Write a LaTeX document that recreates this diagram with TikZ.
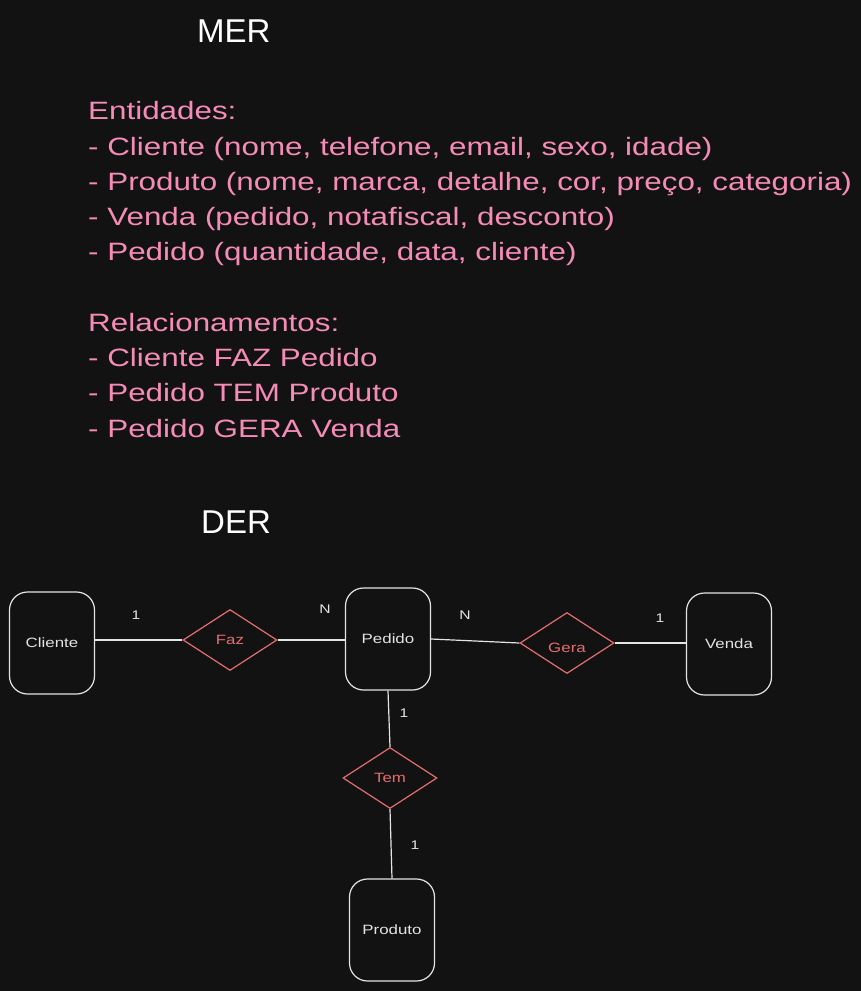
\documentclass[tikz,border=0pt]{standalone}
\usepackage{fontspec}
\setmainfont{Liberation Sans}
\newfontfamily\hand[FakeStretch=1.25]{Liberation Sans}
\usetikzlibrary{shapes.geometric}
\definecolor{bg}{HTML}{121212}
\definecolor{pinktxt}{RGB}{245,140,182}
\definecolor{redd}{RGB}{228,110,110}
\definecolor{wht}{RGB}{228,228,228}
\begin{document}
\begin{tikzpicture}[x=1pt,y=-1pt,
  entity/.style={draw=wht, line width=1.2pt, rounded corners=18pt, minimum width=85pt, minimum height=102pt, inner sep=0pt, text=wht, font=\hand\fontsize{13.5}{15}\selectfont},
  rel/.style={diamond, draw=redd, line width=1.2pt, minimum width=94pt, minimum height=61pt, inner sep=0pt, text=redd, font=\hand\fontsize{13.5}{15}\selectfont},
  conn/.style={draw=wht, line width=1.2pt},
  card/.style={text=wht, inner sep=0pt, font=\hand\fontsize{12.5}{14}\selectfont},
  title/.style={text=white, inner sep=0pt, anchor=base west, font=\fontsize{33}{36}\selectfont},
  mer/.style={text=pinktxt, inner sep=0pt, anchor=base west, font=\hand\fontsize{25.1}{30}\selectfont}
]
\fill[bg] (0,0) rectangle (861,991);
\useasboundingbox (0,0) rectangle (861,991);

\node[title] (tmer) at (197,42) {MER};
\node[title] (tder) at (201,533) {DER};

\node[mer] (l1) at (88,119) {Entidades:};
\node[mer] (l2) at (88,155) {- Cliente (nome, telefone, email, sexo, idade)};
\node[mer] (l3) at (88,190) {- Produto (nome, marca, detalhe, cor, preço, categoria)};
\node[mer] (l4) at (88,225) {- Venda (pedido, notafiscal, desconto)};
\node[mer] (l5) at (88,260) {- Pedido (quantidade, data, cliente)};
\node[mer] (l6) at (88,331) {Relacionamentos:};
\node[mer] (l7) at (88,366) {- Cliente FAZ Pedido};
\node[mer] (l8) at (88,401) {- Pedido TEM Produto};
\node[mer] (l9) at (88,437) {- Pedido GERA Venda};

\node[entity] (cliente) at (52,643) {Cliente};
\node[entity] (pedido) at (388,639) {Pedido};
\node[entity] (venda) at (729,644) {Venda};
\node[entity] (produto) at (392,930) {Produto};

\node[rel] (faz) at (230,640) {Faz};
\node[rel] (gera) at (567,643) {\raisebox{-9pt}[0pt][0pt]{Gera}};
\node[rel] (tem) at (390,778) {Tem};

\draw[conn] (faz.west) -- (faz.west -| cliente.east);
\draw[conn] (faz.east) -- (faz.east -| pedido.west);
\draw[conn] (pedido.east) -- (gera.west);
\draw[conn] (gera.east) -- (gera.east -| venda.west);
\draw[conn] (pedido.south) -- (tem.north);
\draw[conn] (tem.south) -- (produto.north);

\node[card] (c1) at (136,615) {1};
\node[card] (c2) at (325,609) {N};
\node[card] (c3) at (465,615) {N};
\node[card] (c4) at (660,618) {1};
\node[card] (c5) at (404,713) {1};
\node[card] (c6) at (415,845) {1};
\end{tikzpicture}
\end{document}
